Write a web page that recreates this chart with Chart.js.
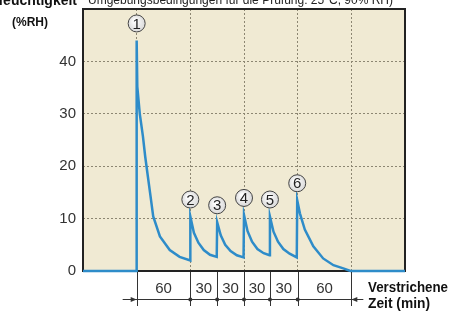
<!DOCTYPE html>
<html>
<head>
<meta charset="utf-8">
<script src="https://cdn.jsdelivr.net/npm/chart.js@4"></script>
<style>
  html, body { margin: 0; padding: 0; background: #fff; }
  #wrap { width: 450px; height: 312px; }
</style>
</head>
<body>
<div id="wrap"><canvas id="myHumidityChart" width="450" height="312"></canvas></div>
<script>
// elapsed time (min) and relative humidity (%RH)
var timeMin = [0, 60, 60, 60.7, 63.5, 67, 69.5, 72, 75, 78.5,
  86, 97, 108, 120, 120, 124, 129, 135, 142, 149.5,
  150, 154, 159, 165, 172, 179.5, 180, 184, 189, 195,
  202, 208.5, 209, 213, 218, 224, 231, 239, 239.5, 242.5,
  248, 257.5, 268.5, 280, 291, 299, 360];
var humidity = [0, 0, 44, 35.2, 30, 25.7, 21.9, 18.7, 14.9, 10.4,
  6.6, 4.0, 2.7, 2.0, 10.4, 7.3, 5.4, 4.0, 3.1, 2.7,
  9.3, 6.8, 5.0, 3.8, 3.0, 2.6, 10.7, 7.6, 5.6, 4.2,
  3.4, 3.0, 10.4, 7.5, 5.6, 4.2, 3.3, 2.6, 13.5, 11.0,
  7.9, 4.7, 2.4, 1.1, 0.5, 0, 0];

// numbered peaks
var peakTimes = [60, 120, 150, 180, 209, 239.5];
var peakValues = [44, 10.4, 9.3, 10.7, 10.4, 13.5];
var peakLabels = ['1', '2', '3', '4', '5', '6'];

// interval dimension under the axis
var markTimes = [60, 120, 150, 180, 209, 240, 300];
var intervalLabels = ['60', '30', '30', '30', '30', '60'];

var yTicks = [0, 10, 20, 30, 40];

var points = timeMin.map(function (t, i) { return { x: t, y: humidity[i] }; });

var bgPlugin = {
  id: 'bgPlugin',
  beforeDraw: function (chart) {
    var a = chart.chartArea, c = chart.ctx;
    c.save();
    c.fillStyle = '#f0ead3';
    c.fillRect(a.left, a.top, a.right - a.left, a.bottom - a.top);
    c.restore();
  },
  beforeDatasetsDraw: function (chart) {
    var a = chart.chartArea, c = chart.ctx;
    c.save();
    c.strokeStyle = '#222';
    c.lineWidth = 2;
    c.strokeRect(a.left, a.top, a.right - a.left, a.bottom - a.top);
    c.restore();
  }
};

var notePlugin = {
  id: 'notePlugin',
  afterDraw: function (chart) {
    var c = chart.ctx, xs = chart.scales.x, ys = chart.scales.y, a = chart.chartArea;
    c.save();

    // circled numbers over the peaks
    peakTimes.forEach(function (t, i) {
      var px = xs.getPixelForValue(t);
      var py = ys.getPixelForValue(peakValues[i]) - 17;
      var g = c.createRadialGradient(px - 2, py - 3, 1, px, py, 9);
      g.addColorStop(0, '#ffffff');
      g.addColorStop(1, '#d8d8d8');
      c.beginPath();
      c.arc(px, py, 8.5, 0, Math.PI * 2);
      c.fillStyle = g;
      c.fill();
      c.lineWidth = 1;
      c.strokeStyle = '#444';
      c.stroke();
      c.fillStyle = '#222';
      c.font = '15px "Liberation Sans", Arial, sans-serif';
      c.textAlign = 'center';
      c.textBaseline = 'middle';
      c.fillText(peakLabels[i], px, py + 1);
    });

    // dimension ticks, dots and arrows
    var lineY = 299;
    c.strokeStyle = '#333';
    c.fillStyle = '#333';
    c.lineWidth = 1;
    markTimes.forEach(function (t) {
      var px = Math.round(xs.getPixelForValue(t)) + 0.5;
      c.beginPath();
      c.moveTo(px, a.bottom + 1);
      c.lineTo(px, 306);
      c.stroke();
    });
    var x0 = xs.getPixelForValue(markTimes[0]);
    var x1 = xs.getPixelForValue(markTimes[markTimes.length - 1]);
    c.beginPath();
    c.moveTo(x0 - 14, lineY + 0.5);
    c.lineTo(x1 + 12, lineY + 0.5);
    c.stroke();
    // arrowheads
    c.beginPath();
    c.moveTo(x0, lineY + 0.5);
    c.lineTo(x0 - 6, lineY - 2);
    c.lineTo(x0 - 6, lineY + 3);
    c.closePath();
    c.fill();
    c.beginPath();
    c.moveTo(x1, lineY + 0.5);
    c.lineTo(x1 + 6, lineY - 2);
    c.lineTo(x1 + 6, lineY + 3);
    c.closePath();
    c.fill();
    for (var k = 1; k < markTimes.length - 1; k++) {
      c.beginPath();
      c.arc(xs.getPixelForValue(markTimes[k]), lineY + 0.5, 2, 0, Math.PI * 2);
      c.fill();
    }
    c.font = '15px "Liberation Sans", Arial, sans-serif';
    c.textAlign = 'center';
    c.textBaseline = 'alphabetic';
    intervalLabels.forEach(function (lab, i) {
      var mx = (xs.getPixelForValue(markTimes[i]) + xs.getPixelForValue(markTimes[i + 1])) / 2;
      c.fillText(lab, mx, 293);
    });

    // axis titles and conditions
    c.fillStyle = '#111';
    c.textAlign = 'left';
    c.font = 'bold 14px "Liberation Sans", Arial, sans-serif';
    c.fillText('Verstrichene', 368, 292, 80);
    c.fillText('Zeit (min)', 368, 308, 62);
    c.textAlign = 'right';
    c.fillText('Luftfeuchtigkeit', 77, 5);
    c.textAlign = 'center';
    c.font = 'bold 13px "Liberation Sans", Arial, sans-serif';
    c.fillText('(%RH)', 30, 26, 36);
    c.textAlign = 'left';
    c.font = '12px "Liberation Sans", Arial, sans-serif';
    c.fillStyle = '#222';
    c.fillText('Umgebungsbedingungen für die Prüfung: 25°C, 90% RH)', 88, 4, 317);
    c.restore();
  }
};

var ctx = document.getElementById('myHumidityChart').getContext('2d');

var myHumidityChart = new Chart(ctx, {
  type: 'line',
  data: {
    datasets: [{
      data: points,
      borderColor: '#2e8cc9',
      borderWidth: 2.5,
      pointRadius: 0,
      tension: 0,
      clip: 4
    }]
  },
  options: {
    responsive: false,
    animation: false,
    layout: { padding: { top: 9, right: 45, left: 0, bottom: 0 } },
    plugins: { legend: { display: false }, tooltip: { enabled: false } },
    scales: {
      x: {
        type: 'linear',
        min: 0,
        max: 360,
        ticks: { display: false, stepSize: 60 },
        grid: { color: '#8c8672', lineWidth: 1, drawTicks: false },
        border: { display: false, dash: [2, 2] },
        afterFit: function (scale) {
          scale.height = 41;
          scale.paddingLeft = 0;
          scale.paddingRight = 0;
        }
      },
      y: {
        min: 0,
        max: 50,
        afterBuildTicks: function (scale) {
          scale.ticks = [0, 10, 20, 30, 40, 50].map(function (v) { return { value: v }; });
        },
        ticks: {
          color: '#333',
          padding: 7,
          font: { family: '"Liberation Sans", Arial, sans-serif', size: 15 },
          callback: function (v) { return yTicks.indexOf(v) >= 0 ? String(v) : ''; }
        },
        grid: { color: '#8c8672', lineWidth: 1, drawTicks: false },
        border: { display: false, dash: [2, 2] },
        afterFit: function (scale) {
          scale.width = 83;
          scale.paddingTop = 0;
          scale.paddingBottom = 0;
        }
      }
    }
  },
  plugins: [bgPlugin, notePlugin]
});
</script>
</body>
</html>
